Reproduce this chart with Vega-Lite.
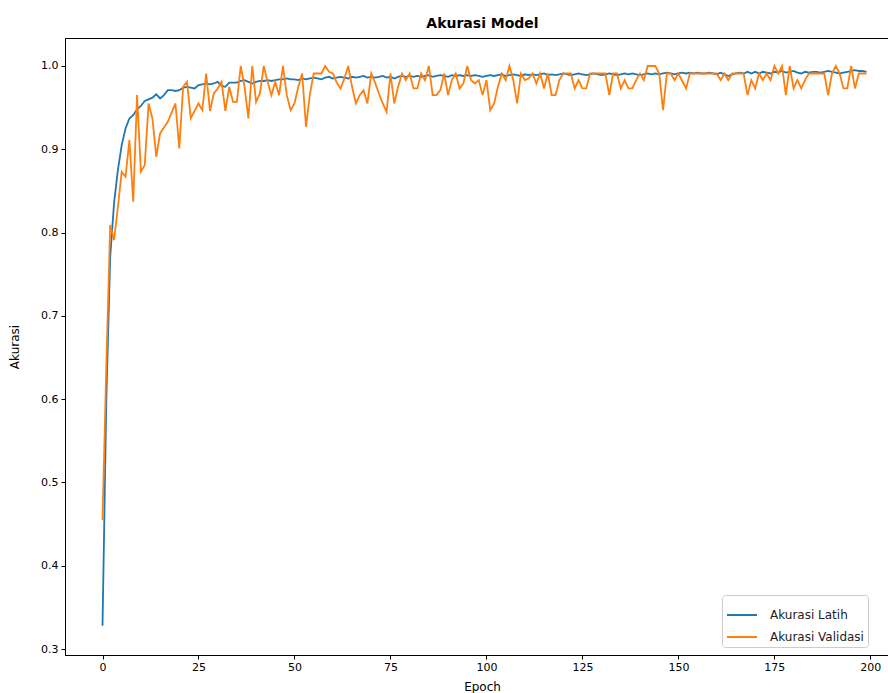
{
"$schema": "https://vega.github.io/schema/vega-lite/v6.json",
"width": 823,
"height": 617,
"autosize": {"type": "none"},
"padding": {"left": 65, "top": 38, "right": 0, "bottom": 38},
"background": "white",
"config": {"view": {"stroke": "black", "strokeWidth": 1}, "font": "DejaVu Sans"},
"title": {"text": "Akurasi Model", "fontSize": 14, "fontWeight": "bold", "font": "DejaVu Sans", "color": "black", "anchor": "middle", "offset": 7, "dx": 6},
"data": {"values": [
{"epoch":0,"Akurasi Latih":0.328,"Akurasi Validasi":0.455},
{"epoch":1,"Akurasi Latih":0.600,"Akurasi Validasi":0.640},
{"epoch":2,"Akurasi Latih":0.770,"Akurasi Validasi":0.809},
{"epoch":3,"Akurasi Latih":0.835,"Akurasi Validasi":0.791},
{"epoch":4,"Akurasi Latih":0.875,"Akurasi Validasi":0.830},
{"epoch":5,"Akurasi Latih":0.905,"Akurasi Validasi":0.873},
{"epoch":6,"Akurasi Latih":0.925,"Akurasi Validasi":0.867},
{"epoch":7,"Akurasi Latih":0.937,"Akurasi Validasi":0.911},
{"epoch":8,"Akurasi Latih":0.941,"Akurasi Validasi":0.837},
{"epoch":9,"Akurasi Latih":0.948,"Akurasi Validasi":0.965},
{"epoch":10,"Akurasi Latih":0.952,"Akurasi Validasi":0.873},
{"epoch":11,"Akurasi Latih":0.958,"Akurasi Validasi":0.881},
{"epoch":12,"Akurasi Latih":0.960,"Akurasi Validasi":0.955},
{"epoch":13,"Akurasi Latih":0.962,"Akurasi Validasi":0.937},
{"epoch":14,"Akurasi Latih":0.966,"Akurasi Validasi":0.891},
{"epoch":15,"Akurasi Latih":0.961,"Akurasi Validasi":0.919},
{"epoch":16,"Akurasi Latih":0.965,"Akurasi Validasi":0.926},
{"epoch":17,"Akurasi Latih":0.971,"Akurasi Validasi":0.933},
{"epoch":18,"Akurasi Latih":0.971,"Akurasi Validasi":0.944},
{"epoch":19,"Akurasi Latih":0.970,"Akurasi Validasi":0.955},
{"epoch":20,"Akurasi Latih":0.971,"Akurasi Validasi":0.901},
{"epoch":21,"Akurasi Latih":0.974,"Akurasi Validasi":0.975},
{"epoch":22,"Akurasi Latih":0.975,"Akurasi Validasi":0.981},
{"epoch":23,"Akurasi Latih":0.974,"Akurasi Validasi":0.937},
{"epoch":24,"Akurasi Latih":0.973,"Akurasi Validasi":0.946},
{"epoch":25,"Akurasi Latih":0.977,"Akurasi Validasi":0.955},
{"epoch":26,"Akurasi Latih":0.978,"Akurasi Validasi":0.947},
{"epoch":27,"Akurasi Latih":0.979,"Akurasi Validasi":0.991},
{"epoch":28,"Akurasi Latih":0.978,"Akurasi Validasi":0.946},
{"epoch":29,"Akurasi Latih":0.979,"Akurasi Validasi":0.967},
{"epoch":30,"Akurasi Latih":0.981,"Akurasi Validasi":0.973},
{"epoch":31,"Akurasi Latih":0.976,"Akurasi Validasi":0.981},
{"epoch":32,"Akurasi Latih":0.975,"Akurasi Validasi":0.946},
{"epoch":33,"Akurasi Latih":0.980,"Akurasi Validasi":0.975},
{"epoch":34,"Akurasi Latih":0.980,"Akurasi Validasi":0.957},
{"epoch":35,"Akurasi Latih":0.980,"Akurasi Validasi":0.957},
{"epoch":36,"Akurasi Latih":0.982,"Akurasi Validasi":1.000},
{"epoch":37,"Akurasi Latih":0.983,"Akurasi Validasi":0.975},
{"epoch":38,"Akurasi Latih":0.981,"Akurasi Validasi":0.937},
{"epoch":39,"Akurasi Latih":0.979,"Akurasi Validasi":1.000},
{"epoch":40,"Akurasi Latih":0.981,"Akurasi Validasi":0.957},
{"epoch":41,"Akurasi Latih":0.982,"Akurasi Validasi":0.967},
{"epoch":42,"Akurasi Latih":0.982,"Akurasi Validasi":1.000},
{"epoch":43,"Akurasi Latih":0.983,"Akurasi Validasi":0.981},
{"epoch":44,"Akurasi Latih":0.982,"Akurasi Validasi":0.965},
{"epoch":45,"Akurasi Latih":0.983,"Akurasi Validasi":0.981},
{"epoch":46,"Akurasi Latih":0.984,"Akurasi Validasi":0.965},
{"epoch":47,"Akurasi Latih":0.984,"Akurasi Validasi":1.000},
{"epoch":48,"Akurasi Latih":0.985,"Akurasi Validasi":0.965},
{"epoch":49,"Akurasi Latih":0.984,"Akurasi Validasi":0.947},
{"epoch":50,"Akurasi Latih":0.984,"Akurasi Validasi":0.955},
{"epoch":51,"Akurasi Latih":0.983,"Akurasi Validasi":0.975},
{"epoch":52,"Akurasi Latih":0.985,"Akurasi Validasi":0.991},
{"epoch":53,"Akurasi Latih":0.984,"Akurasi Validasi":0.927},
{"epoch":54,"Akurasi Latih":0.985,"Akurasi Validasi":0.965},
{"epoch":55,"Akurasi Latih":0.986,"Akurasi Validasi":0.991},
{"epoch":56,"Akurasi Latih":0.985,"Akurasi Validasi":0.991},
{"epoch":57,"Akurasi Latih":0.984,"Akurasi Validasi":0.991},
{"epoch":58,"Akurasi Latih":0.986,"Akurasi Validasi":1.000},
{"epoch":59,"Akurasi Latih":0.987,"Akurasi Validasi":0.993},
{"epoch":60,"Akurasi Latih":0.985,"Akurasi Validasi":0.991},
{"epoch":61,"Akurasi Latih":0.986,"Akurasi Validasi":0.980},
{"epoch":62,"Akurasi Latih":0.987,"Akurasi Validasi":0.973},
{"epoch":63,"Akurasi Latih":0.986,"Akurasi Validasi":0.985},
{"epoch":64,"Akurasi Latih":0.985,"Akurasi Validasi":1.000},
{"epoch":65,"Akurasi Latih":0.987,"Akurasi Validasi":0.975},
{"epoch":66,"Akurasi Latih":0.986,"Akurasi Validasi":0.955},
{"epoch":67,"Akurasi Latih":0.987,"Akurasi Validasi":0.965},
{"epoch":68,"Akurasi Latih":0.988,"Akurasi Validasi":0.971},
{"epoch":69,"Akurasi Latih":0.986,"Akurasi Validasi":0.955},
{"epoch":70,"Akurasi Latih":0.987,"Akurasi Validasi":0.991},
{"epoch":71,"Akurasi Latih":0.986,"Akurasi Validasi":0.980},
{"epoch":72,"Akurasi Latih":0.987,"Akurasi Validasi":0.967},
{"epoch":73,"Akurasi Latih":0.988,"Akurasi Validasi":0.955},
{"epoch":74,"Akurasi Latih":0.986,"Akurasi Validasi":0.945},
{"epoch":75,"Akurasi Latih":0.987,"Akurasi Validasi":0.991},
{"epoch":76,"Akurasi Latih":0.985,"Akurasi Validasi":0.955},
{"epoch":77,"Akurasi Latih":0.987,"Akurasi Validasi":0.975},
{"epoch":78,"Akurasi Latih":0.988,"Akurasi Validasi":0.991},
{"epoch":79,"Akurasi Latih":0.987,"Akurasi Validasi":0.983},
{"epoch":80,"Akurasi Latih":0.988,"Akurasi Validasi":0.991},
{"epoch":81,"Akurasi Latih":0.987,"Akurasi Validasi":0.973},
{"epoch":82,"Akurasi Latih":0.988,"Akurasi Validasi":0.973},
{"epoch":83,"Akurasi Latih":0.987,"Akurasi Validasi":0.991},
{"epoch":84,"Akurasi Latih":0.988,"Akurasi Validasi":0.983},
{"epoch":85,"Akurasi Latih":0.989,"Akurasi Validasi":1.000},
{"epoch":86,"Akurasi Latih":0.987,"Akurasi Validasi":0.965},
{"epoch":87,"Akurasi Latih":0.988,"Akurasi Validasi":0.965},
{"epoch":88,"Akurasi Latih":0.989,"Akurasi Validasi":0.971},
{"epoch":89,"Akurasi Latih":0.988,"Akurasi Validasi":0.991},
{"epoch":90,"Akurasi Latih":0.987,"Akurasi Validasi":0.965},
{"epoch":91,"Akurasi Latih":0.989,"Akurasi Validasi":0.983},
{"epoch":92,"Akurasi Latih":0.988,"Akurasi Validasi":0.991},
{"epoch":93,"Akurasi Latih":0.989,"Akurasi Validasi":0.973},
{"epoch":94,"Akurasi Latih":0.988,"Akurasi Validasi":0.979},
{"epoch":95,"Akurasi Latih":0.989,"Akurasi Validasi":1.000},
{"epoch":96,"Akurasi Latih":0.988,"Akurasi Validasi":0.983},
{"epoch":97,"Akurasi Latih":0.989,"Akurasi Validasi":0.979},
{"epoch":98,"Akurasi Latih":0.988,"Akurasi Validasi":0.983},
{"epoch":99,"Akurasi Latih":0.987,"Akurasi Validasi":0.965},
{"epoch":100,"Akurasi Latih":0.988,"Akurasi Validasi":0.983},
{"epoch":101,"Akurasi Latih":0.989,"Akurasi Validasi":0.947},
{"epoch":102,"Akurasi Latih":0.988,"Akurasi Validasi":0.955},
{"epoch":103,"Akurasi Latih":0.989,"Akurasi Validasi":0.975},
{"epoch":104,"Akurasi Latih":0.990,"Akurasi Validasi":0.991},
{"epoch":105,"Akurasi Latih":0.988,"Akurasi Validasi":0.983},
{"epoch":106,"Akurasi Latih":0.989,"Akurasi Validasi":1.000},
{"epoch":107,"Akurasi Latih":0.990,"Akurasi Validasi":0.983},
{"epoch":108,"Akurasi Latih":0.989,"Akurasi Validasi":0.955},
{"epoch":109,"Akurasi Latih":0.988,"Akurasi Validasi":0.991},
{"epoch":110,"Akurasi Latih":0.990,"Akurasi Validasi":0.983},
{"epoch":111,"Akurasi Latih":0.989,"Akurasi Validasi":0.985},
{"epoch":112,"Akurasi Latih":0.990,"Akurasi Validasi":0.991},
{"epoch":113,"Akurasi Latih":0.989,"Akurasi Validasi":0.979},
{"epoch":114,"Akurasi Latih":0.990,"Akurasi Validasi":0.991},
{"epoch":115,"Akurasi Latih":0.991,"Akurasi Validasi":0.973},
{"epoch":116,"Akurasi Latih":0.989,"Akurasi Validasi":0.991},
{"epoch":117,"Akurasi Latih":0.990,"Akurasi Validasi":0.965},
{"epoch":118,"Akurasi Latih":0.989,"Akurasi Validasi":0.965},
{"epoch":119,"Akurasi Latih":0.990,"Akurasi Validasi":0.983},
{"epoch":120,"Akurasi Latih":0.991,"Akurasi Validasi":0.991},
{"epoch":121,"Akurasi Latih":0.990,"Akurasi Validasi":0.991},
{"epoch":122,"Akurasi Latih":0.989,"Akurasi Validasi":0.991},
{"epoch":123,"Akurasi Latih":0.990,"Akurasi Validasi":0.973},
{"epoch":124,"Akurasi Latih":0.991,"Akurasi Validasi":0.983},
{"epoch":125,"Akurasi Latih":0.990,"Akurasi Validasi":0.973},
{"epoch":126,"Akurasi Latih":0.989,"Akurasi Validasi":0.973},
{"epoch":127,"Akurasi Latih":0.990,"Akurasi Validasi":0.991},
{"epoch":128,"Akurasi Latih":0.991,"Akurasi Validasi":0.991},
{"epoch":129,"Akurasi Latih":0.990,"Akurasi Validasi":0.991},
{"epoch":130,"Akurasi Latih":0.989,"Akurasi Validasi":0.991},
{"epoch":131,"Akurasi Latih":0.990,"Akurasi Validasi":0.991},
{"epoch":132,"Akurasi Latih":0.991,"Akurasi Validasi":0.965},
{"epoch":133,"Akurasi Latih":0.990,"Akurasi Validasi":0.991},
{"epoch":134,"Akurasi Latih":0.989,"Akurasi Validasi":0.991},
{"epoch":135,"Akurasi Latih":0.990,"Akurasi Validasi":0.973},
{"epoch":136,"Akurasi Latih":0.991,"Akurasi Validasi":0.983},
{"epoch":137,"Akurasi Latih":0.990,"Akurasi Validasi":0.973},
{"epoch":138,"Akurasi Latih":0.991,"Akurasi Validasi":0.973},
{"epoch":139,"Akurasi Latih":0.990,"Akurasi Validasi":0.983},
{"epoch":140,"Akurasi Latih":0.989,"Akurasi Validasi":0.991},
{"epoch":141,"Akurasi Latih":0.990,"Akurasi Validasi":0.983},
{"epoch":142,"Akurasi Latih":0.991,"Akurasi Validasi":1.000},
{"epoch":143,"Akurasi Latih":0.990,"Akurasi Validasi":1.000},
{"epoch":144,"Akurasi Latih":0.991,"Akurasi Validasi":1.000},
{"epoch":145,"Akurasi Latih":0.990,"Akurasi Validasi":0.991},
{"epoch":146,"Akurasi Latih":0.991,"Akurasi Validasi":0.947},
{"epoch":147,"Akurasi Latih":0.992,"Akurasi Validasi":0.991},
{"epoch":148,"Akurasi Latih":0.991,"Akurasi Validasi":0.991},
{"epoch":149,"Akurasi Latih":0.990,"Akurasi Validasi":0.983},
{"epoch":150,"Akurasi Latih":0.991,"Akurasi Validasi":0.991},
{"epoch":151,"Akurasi Latih":0.992,"Akurasi Validasi":0.982},
{"epoch":152,"Akurasi Latih":0.991,"Akurasi Validasi":0.973},
{"epoch":153,"Akurasi Latih":0.992,"Akurasi Validasi":0.991},
{"epoch":154,"Akurasi Latih":0.991,"Akurasi Validasi":0.991},
{"epoch":155,"Akurasi Latih":0.992,"Akurasi Validasi":0.991},
{"epoch":156,"Akurasi Latih":0.991,"Akurasi Validasi":0.991},
{"epoch":157,"Akurasi Latih":0.991,"Akurasi Validasi":0.991},
{"epoch":158,"Akurasi Latih":0.992,"Akurasi Validasi":0.991},
{"epoch":159,"Akurasi Latih":0.991,"Akurasi Validasi":0.991},
{"epoch":160,"Akurasi Latih":0.990,"Akurasi Validasi":0.991},
{"epoch":161,"Akurasi Latih":0.992,"Akurasi Validasi":0.983},
{"epoch":162,"Akurasi Latih":0.990,"Akurasi Validasi":0.991},
{"epoch":163,"Akurasi Latih":0.988,"Akurasi Validasi":0.983},
{"epoch":164,"Akurasi Latih":0.990,"Akurasi Validasi":0.991},
{"epoch":165,"Akurasi Latih":0.991,"Akurasi Validasi":0.991},
{"epoch":166,"Akurasi Latih":0.992,"Akurasi Validasi":0.991},
{"epoch":167,"Akurasi Latih":0.991,"Akurasi Validasi":0.991},
{"epoch":168,"Akurasi Latih":0.993,"Akurasi Validasi":0.965},
{"epoch":169,"Akurasi Latih":0.991,"Akurasi Validasi":0.983},
{"epoch":170,"Akurasi Latih":0.993,"Akurasi Validasi":0.973},
{"epoch":171,"Akurasi Latih":0.991,"Akurasi Validasi":0.991},
{"epoch":172,"Akurasi Latih":0.993,"Akurasi Validasi":0.983},
{"epoch":173,"Akurasi Latih":0.992,"Akurasi Validasi":0.991},
{"epoch":174,"Akurasi Latih":0.991,"Akurasi Validasi":0.983},
{"epoch":175,"Akurasi Latih":0.993,"Akurasi Validasi":1.000},
{"epoch":176,"Akurasi Latih":0.992,"Akurasi Validasi":0.991},
{"epoch":177,"Akurasi Latih":0.994,"Akurasi Validasi":1.000},
{"epoch":178,"Akurasi Latih":0.992,"Akurasi Validasi":0.965},
{"epoch":179,"Akurasi Latih":0.993,"Akurasi Validasi":1.000},
{"epoch":180,"Akurasi Latih":0.994,"Akurasi Validasi":0.973},
{"epoch":181,"Akurasi Latih":0.992,"Akurasi Validasi":0.983},
{"epoch":182,"Akurasi Latih":0.991,"Akurasi Validasi":0.973},
{"epoch":183,"Akurasi Latih":0.993,"Akurasi Validasi":0.983},
{"epoch":184,"Akurasi Latih":0.992,"Akurasi Validasi":0.991},
{"epoch":185,"Akurasi Latih":0.993,"Akurasi Validasi":0.991},
{"epoch":186,"Akurasi Latih":0.993,"Akurasi Validasi":0.991},
{"epoch":187,"Akurasi Latih":0.992,"Akurasi Validasi":0.991},
{"epoch":188,"Akurasi Latih":0.993,"Akurasi Validasi":0.991},
{"epoch":189,"Akurasi Latih":0.994,"Akurasi Validasi":0.965},
{"epoch":190,"Akurasi Latih":0.993,"Akurasi Validasi":0.991},
{"epoch":191,"Akurasi Latih":0.992,"Akurasi Validasi":1.000},
{"epoch":192,"Akurasi Latih":0.991,"Akurasi Validasi":0.991},
{"epoch":193,"Akurasi Latih":0.992,"Akurasi Validasi":0.973},
{"epoch":194,"Akurasi Latih":0.993,"Akurasi Validasi":0.973},
{"epoch":195,"Akurasi Latih":0.994,"Akurasi Validasi":1.000},
{"epoch":196,"Akurasi Latih":0.995,"Akurasi Validasi":0.973},
{"epoch":197,"Akurasi Latih":0.994,"Akurasi Validasi":0.991},
{"epoch":198,"Akurasi Latih":0.994,"Akurasi Validasi":0.991},
{"epoch":199,"Akurasi Latih":0.993,"Akurasi Validasi":0.991}
]},
"transform": [{"fold": ["Akurasi Latih", "Akurasi Validasi"], "as": ["seri", "akurasi"]}],
"mark": {"type": "line", "strokeWidth": 1.8, "clip": true},
"encoding": {
  "x": {"field": "epoch", "type": "quantitative",
    "scale": {"domain": [-9.77, 204.6], "nice": false, "zero": false},
    "axis": {"title": "Epoch", "values": [0,25,50,75,100,125,150,175,200], "format": "d", "grid": false,
      "domain": true, "domainColor": "black", "tickColor": "black", "tickSize": 4, "labelColor": "black",
      "labelFontSize": 11, "labelFont": "DejaVu Sans", "labelPadding": 2, "titleFont": "DejaVu Sans",
      "titleFontSize": 12, "titleFontWeight": "normal", "titleColor": "black", "titlePadding": 9, "titleX": 417, "labelFlush": false}},
  "y": {"field": "akurasi", "type": "quantitative",
    "scale": {"domain": [0.2928, 1.0336], "nice": false, "zero": false},
    "axis": {"title": "Akurasi", "values": [0.3,0.4,0.5,0.6,0.7,0.8,0.9,1.0], "format": ".1f", "grid": false,
      "domain": true, "domainColor": "black", "tickColor": "black", "tickSize": 4, "labelColor": "black",
      "labelFontSize": 11, "labelFont": "DejaVu Sans", "labelPadding": 3, "titleFont": "DejaVu Sans",
      "titleFontSize": 12, "titleFontWeight": "normal", "titleColor": "black", "titlePadding": 19, "labelFlush": false}},
  "color": {"field": "seri", "type": "nominal",
    "scale": {"domain": ["Akurasi Latih", "Akurasi Validasi"], "range": ["#1f77b4", "#ff7f0e"]},
    "legend": {"title": null, "orient": "none", "legendX": 657, "legendY": 557, "fillColor": "white",
      "strokeColor": "#cccccc", "cornerRadius": 3, "padding": 4, "symbolType": "stroke", "symbolSize": 900,
      "symbolStrokeWidth": 2, "labelFontSize": 12, "labelFont": "DejaVu Sans", "labelColor": "#222222",
      "labelOffset": 12, "rowPadding": -10}}
}
}
